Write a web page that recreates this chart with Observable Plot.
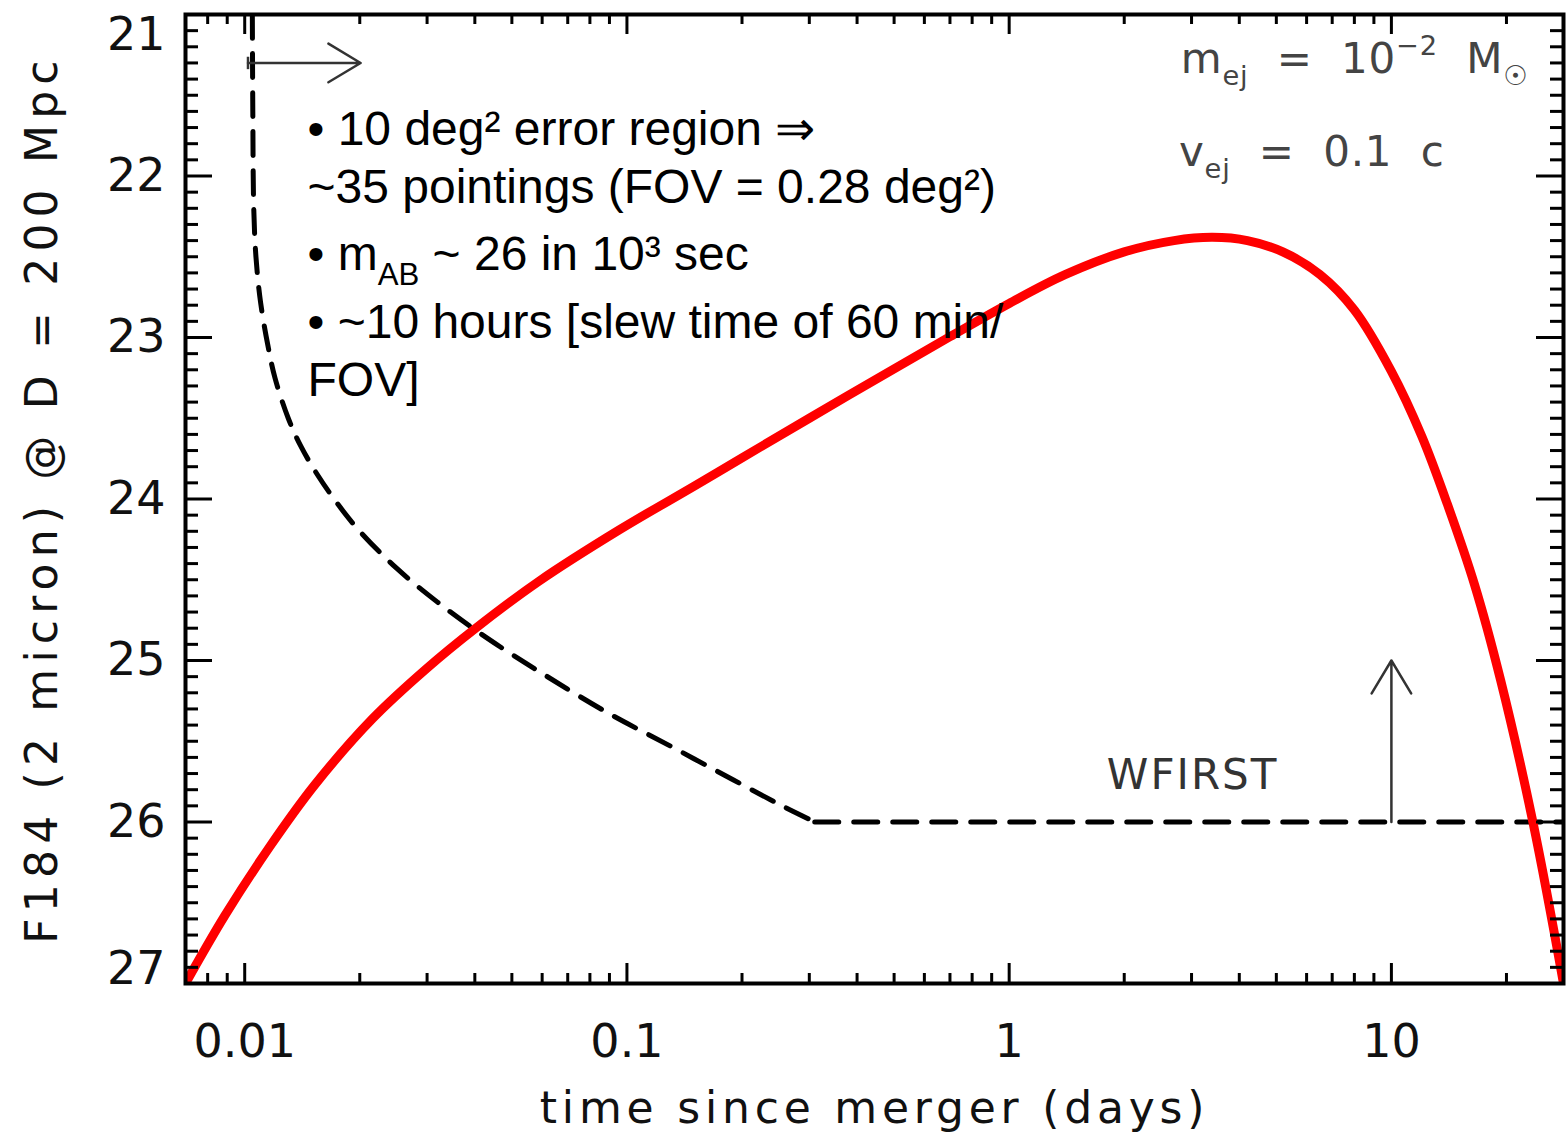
<!DOCTYPE html>
<html><head><meta charset="utf-8">
<script src="https://cdn.jsdelivr.net/npm/d3@7"></script>
<script src="https://cdn.jsdelivr.net/npm/@observablehq/plot@0.6"></script>
<style>body{margin:0;background:#fff} svg{display:block;background:#fff}</style>
</head><body><div id="chart"></div>
<script>
// ---- data ----
const kilonovaTime = [0.007, 0.00887, 0.01165, 0.01525, 0.0216, 0.0299, 0.0402, 0.0588, 0.0957, 0.15, 0.2, 0.3, 0.5, 0.7, 1.0, 1.4, 2.0, 2.7, 3.4, 4.2, 5.2, 6.5, 8.0, 10.0, 12.0, 14.0, 16.5, 19.3, 23.5, 28.2];
const kilonovaMag  = [27.00, 26.58, 26.15, 25.77, 25.36, 25.05, 24.80, 24.51, 24.19, 23.92, 23.745, 23.50, 23.194, 22.995, 22.789, 22.611, 22.47, 22.40, 22.38, 22.40, 22.47, 22.61, 22.83, 23.21, 23.61, 24.03, 24.53, 25.12, 26.01, 27.00];
const limitTime = [0.01047, 0.0105, 0.01056, 0.0107, 0.011, 0.0115, 0.012, 0.013, 0.014, 0.0155, 0.0175, 0.02, 0.025, 0.032, 0.043, 0.06, 0.09, 0.13, 0.19, 0.25, 0.31];
const limitMag  = [21.0, 21.6, 22.2, 22.5, 22.78, 23.05, 23.25, 23.50, 23.67, 23.85, 24.03, 24.20, 24.43, 24.64, 24.86, 25.08, 25.33, 25.53, 25.74, 25.89, 26.0];
const floorTime = [0.31, 28.2];
const floorMag  = [26.0, 26.0];

const xMajorTicks = [0.01, 0.1, 1, 10];
const xMinorTicks = [0.007, 0.008, 0.009, 0.02, 0.03, 0.04, 0.05, 0.06, 0.07, 0.08, 0.09, 0.2, 0.3, 0.4, 0.5, 0.6, 0.7, 0.8, 0.9, 2, 3, 4, 5, 6, 7, 8, 9, 20];
const xTickLabels = ["0.01", "0.1", "1", "10"];
const yMajorTicks = [21, 22, 23, 24, 25, 26, 27];
const yMinorTicks = d3.range(21, 27.001, 0.1).map(v => Math.round(v * 10) / 10).filter(v => !Number.isInteger(v));
const yTickLabels = ["21", "22", "23", "24", "25", "26", "27"];

const notes = [
  {text: "• 10 deg² error region ⇒", t: 0.0146, m: 21.81},
  {text: "~35 pointings (FOV = 0.28 deg²)", t: 0.0146, m: 22.165},
  {text: "• m_{AB} ~ 26 in 10³ sec", t: 0.0146, m: 22.585},
  {text: "• ~10 hours [slew time of 60 min/", t: 0.0146, m: 23.0},
  {text: "FOV]", t: 0.0146, m: 23.36}
];
const params = [
  {text: "m_{ej}  =  10^{−2}  M_{☉}", t: 2.81, m: 21.36},
  {text: "v_{ej}  =  0.1  c", t: 2.78, m: 21.935}
];
const wfirstLabel = [{text: "WFIRST", t: 3.02, m: 25.71}];
const arrowRight = [{t1: 0.0102, m1: 21.30, t2: 0.0201, m2: 21.30}];
const arrowUp = [{t1: 10, m1: 26.0, t2: 10, m2: 25.0}];

// ---- layout ----
const W = 1566, H = 1139, mL = 185, mR = 3, mT = 14, mB = 156;
const innerW = W - mL - mR, innerH = H - mT - mB;

const kilonova = kilonovaTime.map((t, i) => ({t, m: kilonovaMag[i]}));
const limit = limitTime.map((t, i) => ({t, m: limitMag[i]}));
const floor = floorTime.map((t, i) => ({t, m: floorMag[i]}));
const xLab = xMajorTicks.map((t, i) => ({t, label: xTickLabels[i]}));
const yLab = yMajorTicks.map((m, i) => ({m, label: yTickLabels[i]}));

const idlFont = "DejaVu Sans";
const vbar = {draw(ctx, size) { const h = Math.sqrt(size); ctx.moveTo(0, -h / 2); ctx.lineTo(0, h / 2); }};

const plot = Plot.plot({
  width: W, height: H,
  marginLeft: mL, marginRight: mR, marginTop: mT, marginBottom: mB,
  style: {background: "#fff", overflow: "visible"},
  x: {type: "log", domain: [0.007, 28.2], axis: null},
  y: {domain: [27, 21], axis: null},
  marks: [
    // curves
    Plot.line(limit, {x: "t", y: "m", stroke: "#000", strokeWidth: 5, strokeDasharray: "24,15", curve: "catmull-rom", clip: true}),
    Plot.line(floor, {x: "t", y: "m", stroke: "#000", strokeWidth: 5, strokeDasharray: "24,15", clip: true}),
    Plot.line(kilonova, {x: "t", y: "m", stroke: "#ff0000", strokeWidth: 9, curve: "catmull-rom", clip: true}),
    // arrows
    Plot.arrow(arrowRight, {x1: "t1", y1: "m1", x2: "t2", y2: "m2", stroke: "#333", strokeWidth: 2.5, headAngle: 62, headLength: 23}),
    Plot.dot(arrowRight, {x: "t1", y: "m1", symbol: vbar, r: 7, stroke: "#333", strokeWidth: 2.5}),
    Plot.arrow(arrowUp, {x1: "t1", y1: "m1", x2: "t2", y2: "m2", stroke: "#333", strokeWidth: 2.5, headAngle: 62, headLength: 23}),
    // frame and ticks
    Plot.frame({stroke: "#000", strokeWidth: 4}),
    Plot.tickX(xMajorTicks, {x: d => d, insetTop: innerH - 20, stroke: "#000", strokeWidth: 3}),
    Plot.tickX(xMajorTicks, {x: d => d, insetBottom: innerH - 20, stroke: "#000", strokeWidth: 3}),
    Plot.tickX(xMinorTicks, {x: d => d, insetTop: innerH - 10, stroke: "#000", strokeWidth: 3}),
    Plot.tickX(xMinorTicks, {x: d => d, insetBottom: innerH - 10, stroke: "#000", strokeWidth: 3}),
    Plot.tickY(yMajorTicks, {y: d => d, insetRight: innerW - 27, stroke: "#000", strokeWidth: 3}),
    Plot.tickY(yMajorTicks, {y: d => d, insetLeft: innerW - 27, stroke: "#000", strokeWidth: 3}),
    Plot.tickY(yMinorTicks, {y: d => d, insetRight: innerW - 13, stroke: "#000", strokeWidth: 3}),
    Plot.tickY(yMinorTicks, {y: d => d, insetLeft: innerW - 13, stroke: "#000", strokeWidth: 3}),
    // tick labels
    Plot.text(xLab, {x: "t", frameAnchor: "bottom", text: "label", dy: 59, fontSize: 46, fontFamily: idlFont, fill: "#111", lineAnchor: "middle"}),
    Plot.text(yLab.filter(d => d.m > 21 && d.m < 27), {y: "m", frameAnchor: "left", text: "label", dx: -20, textAnchor: "end", lineAnchor: "middle", fontSize: 46, fontFamily: idlFont, fill: "#111"}),
    Plot.text(yLab.filter(d => d.m === 21), {y: "m", frameAnchor: "left", text: "label", dx: -20, dy: 21, textAnchor: "end", lineAnchor: "middle", fontSize: 46, fontFamily: idlFont, fill: "#111"}),
    Plot.text(yLab.filter(d => d.m === 27), {y: "m", frameAnchor: "left", text: "label", dx: -20, dy: -14, textAnchor: "end", lineAnchor: "middle", fontSize: 46, fontFamily: idlFont, fill: "#111"}),
    // axis titles
    Plot.text(["time since merger (days)"], {frameAnchor: "bottom", dy: 125, textAnchor: "middle", lineAnchor: "middle", fontSize: 44, fontFamily: idlFont, fill: "#111", ariaDescription: "title-x"}),
    Plot.text(["F184 (2 micron) @ D = 200 Mpc"], {frameAnchor: "left", dx: -143, rotate: -90, textAnchor: "middle", lineAnchor: "middle", fontSize: 44, fontFamily: idlFont, fill: "#111", ariaDescription: "title-y"}),
    // annotations
    Plot.text(notes, {x: "t", y: "m", text: "text", textAnchor: "start", lineAnchor: "bottom", fontSize: 48, fontFamily: "Liberation Sans, Arial, sans-serif", fill: "#000", ariaDescription: "rich"}),
    Plot.text(params, {x: "t", y: "m", text: "text", textAnchor: "start", lineAnchor: "bottom", fontSize: 42, fontFamily: idlFont, fill: "#444", ariaDescription: "rich-idl"}),
    Plot.text(wfirstLabel, {x: "t", y: "m", text: "text", textAnchor: "middle", lineAnchor: "middle", fontSize: 42, fontFamily: idlFont, fill: "#333", ariaDescription: "idl-wf"})
  ]
});

document.getElementById("chart").appendChild(plot);

// letter spacing for IDL-like texts
const sel = d3.select(plot);
sel.selectAll('g[aria-description="title-x"] text').style("letter-spacing", "4.8px");
sel.selectAll('g[aria-description="title-y"] text').style("letter-spacing", "6.2px");
sel.selectAll('g[aria-description="rich-idl"] text').style("letter-spacing", "0.8px");
sel.selectAll('g[aria-description="idl-wf"] text').style("letter-spacing", "2px");

// sub/superscript markup -> tspans
const ns = "http://www.w3.org/2000/svg";
function richify(el) {
  const s = el.textContent;
  if (!/[_^]\{/.test(s)) return;
  const fs = parseFloat(getComputedStyle(el).fontSize) || 40;
  while (el.firstChild) el.removeChild(el.firstChild);
  const re = /([_^])\{([^}]*)\}/g;
  let last = 0, m, shift = 0;
  const add = (str, kind) => {
    const t = document.createElementNS(ns, "tspan");
    const target = kind === "_" ? fs * 0.3 : kind === "^" ? -fs * 0.42 : 0;
    t.setAttribute("dy", target - shift);
    shift = target;
    if (kind) t.setAttribute("font-size", fs * 0.65);
    t.textContent = str;
    el.appendChild(t);
  };
  while ((m = re.exec(s))) {
    if (m.index > last) add(s.slice(last, m.index), null);
    add(m[2], m[1]);
    last = re.lastIndex;
  }
  if (last < s.length) add(s.slice(last), null);
}
sel.selectAll('g[aria-description="rich"] text, g[aria-description="rich-idl"] text').each(function() { richify(this); });
</script>
</body></html>
